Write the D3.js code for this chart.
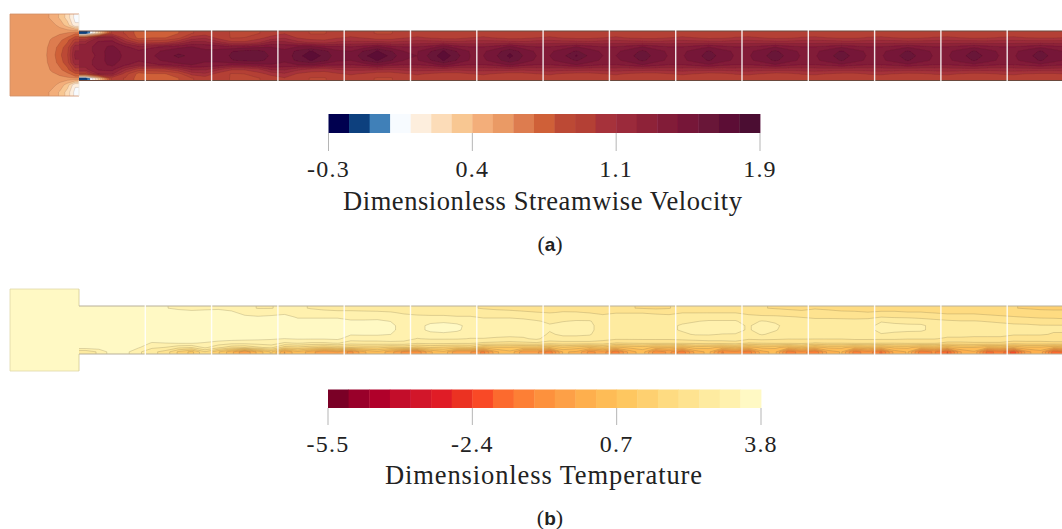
<!DOCTYPE html>
<html><head><meta charset="utf-8">
<script src="https://cdn.jsdelivr.net/npm/d3@7"></script>
<style>html,body{margin:0;padding:0;background:#fff}svg{display:block}text{font-family:"Liberation Serif",serif;fill:#222}</style>
</head><body><svg id="c" width="1062" height="529"></svg>
<script>
const velColors=["#05004f","#0a3f7e","#3f80b8","#f7fbff","#fdeedd","#fcdcb8","#f8c792","#f3ae7a","#ea9a65","#dd7c4f","#cf6139","#bc4a35","#b43f35","#a6333a","#9b2b3a","#8e2239","#821a39","#761637","#691337","#5c1035","#4c0e30"];
const tempColors=["#7a0428","#99052a","#b0062b","#c30c2c","#d2162b","#e01f27","#eb3224","#f94a28","#fc6a2f","#fd7f36","#fd913c","#fda046","#feaf4d","#febc57","#fec761","#fed06f","#fedb81","#fee390","#feeba0","#fff1ae","#fff9c4"];
const velRange=[-0.3,1.9], tempRange=[-5.5,3.8];
const velTicks=["-0.3","0.4","1.1","1.9"], tempTicks=["-5.5","-2.4","0.7","3.8"];
const velTitle="Dimensionless Streamwise Velocity", tempTitle="Dimensionless Temperature";
const modules=15, colsPerModule=5;

// inlet plenum, velocity: upper half, mirrored about the centre row
const velIn0=[.59,.59,.59,.59,.59,.50,.42,.28,.08];
const velIn1=[.59,.59,.59,.59,.59,.58,.50,.38,.14];
const velIn2=[.59,.59,.59,.59,.59,.6,.62,.64,.7];
const velIn3=[.59,.59,.59,.59,.6,.66,.72,.82,1.0];
const velIn4=[.59,.59,.59,.6,.62,.68,.8,.92,1.25];
const velIn5=[.59,.59,.59,.6,.62,.70,.83,.95,1.3];
const tempInlet=3.8;

// channel, velocity: wall (row 0) to centre (row 5); each group is one module
const velR0=[-.15,.35,1.0,.95,.8, .85,.8,.85,.95,1.0, 1.0,.95,.92,.95,1.0, 1.05,1.0,.95,.95,1.0, 1.0,.98,.95,.95,1.0, 1.0,.98,.96,.96,1.0, 1.0,.98,.96,.96,1.0, 1.0,.98,.97,.96,.98, 1.0,.98,.96,.96,.98, 1.0,.98,.97,.97,1.0, 1.0,.98,.96,.97,1.0, 1.0,.98,.97,.97,1.0, 1.0,.99,.97,.98,1.0, 1.0,.99,.98,.98,1.0, 1.0,.99,.98,.98,1.0];
const velR1=[.95,1.3,1.3,1.0,.82, .85,.85,.92,1.1,1.15, 1.02,.95,.96,1.02,1.1, 1.15,1.05,1.0,1.0,1.05, 1.08,1.05,1.0,1.0,1.05, 1.08,1.05,1.02,1.02,1.06, 1.08,1.05,1.02,1.03,1.06, 1.08,1.05,1.03,1.03,1.06, 1.08,1.05,1.03,1.03,1.06, 1.08,1.06,1.03,1.04,1.07, 1.08,1.06,1.03,1.04,1.07, 1.08,1.06,1.04,1.04,1.07, 1.08,1.06,1.04,1.05,1.07, 1.08,1.06,1.04,1.05,1.07, 1.08,1.06,1.05,1.05,1.07];
const velR2=[1.25,1.4,1.42,1.2,1.02, 1.02,1.05,1.15,1.3,1.3, 1.2,1.08,1.08,1.14,1.3, 1.3,1.2,1.15,1.12,1.18, 1.2,1.2,1.2,1.18,1.2, 1.22,1.22,1.22,1.2,1.22, 1.22,1.22,1.22,1.2,1.22, 1.23,1.22,1.22,1.21,1.22, 1.23,1.22,1.22,1.21,1.22, 1.23,1.22,1.22,1.21,1.23, 1.23,1.22,1.22,1.22,1.23, 1.23,1.23,1.22,1.22,1.23, 1.23,1.23,1.22,1.22,1.23, 1.23,1.23,1.23,1.22,1.23, 1.23,1.23,1.23,1.23,1.23];
const velR3=[1.3,1.45,1.5,1.4,1.3, 1.35,1.4,1.45,1.48,1.45, 1.45,1.4,1.42,1.45,1.47, 1.45,1.48,1.5,1.42,1.4, 1.38,1.42,1.5,1.42,1.38, 1.38,1.42,1.52,1.42,1.38, 1.38,1.42,1.5,1.42,1.38, 1.38,1.42,1.48,1.42,1.38, 1.38,1.42,1.48,1.42,1.38, 1.38,1.42,1.47,1.41,1.38, 1.38,1.41,1.47,1.41,1.38, 1.38,1.41,1.46,1.41,1.38, 1.38,1.41,1.46,1.41,1.38, 1.38,1.41,1.45,1.41,1.38, 1.38,1.41,1.45,1.41,1.38];
const velR4=[1.3,1.45,1.52,1.45,1.4, 1.45,1.5,1.54,1.55,1.5, 1.5,1.58,1.62,1.62,1.55, 1.5,1.62,1.7,1.62,1.5, 1.48,1.6,1.7,1.6,1.48, 1.47,1.58,1.7,1.58,1.47, 1.46,1.55,1.66,1.55,1.46, 1.46,1.53,1.6,1.53,1.46, 1.46,1.52,1.61,1.52,1.46, 1.46,1.52,1.6,1.52,1.46, 1.46,1.52,1.61,1.52,1.46, 1.46,1.52,1.6,1.52,1.46, 1.46,1.52,1.6,1.52,1.46, 1.46,1.52,1.6,1.52,1.46, 1.46,1.52,1.6,1.52,1.46];
const velR5=[1.28,1.42,1.55,1.45,1.42, 1.47,1.52,1.62,1.55,1.55, 1.52,1.6,1.64,1.65,1.57, 1.5,1.65,1.76,1.66,1.52, 1.5,1.66,1.78,1.66,1.5, 1.48,1.62,1.76,1.62,1.48, 1.48,1.58,1.72,1.58,1.48, 1.48,1.56,1.7,1.56,1.48, 1.48,1.55,1.66,1.54,1.47, 1.47,1.54,1.64,1.54,1.47, 1.47,1.54,1.67,1.54,1.47, 1.47,1.54,1.66,1.54,1.47, 1.47,1.54,1.66,1.54,1.47, 1.47,1.54,1.66,1.54,1.47, 1.47,1.54,1.65,1.54,1.47];

// channel, temperature: top wall (row 0) to bottom wall (row 10)
const tempR0=[3.6,3.7,3.7,3.7,3.7, 3.6,3.4,3.2,3.1,3.2, 3.3,3.2,3.0,2.9,2.9, 3.0,2.95,2.9,2.85,2.8, 2.8,2.75,2.7,2.7,2.6, 2.6,2.55,2.5,2.5,2.5, 2.45,2.4,2.35,2.3,2.2, 2.3,2.35,2.3,2.3,2.2, 2.1,2.05,2.0,1.95,2.0, 2.25,2.2,2.15,2.15,2.1, 2.1,2.05,2.0,1.95,1.9, 2.0,1.95,1.9,1.85,1.8, 1.85,1.85,1.85,1.85,1.8, 1.75,1.7,1.7,1.65,1.6, 1.6,1.55,1.5,1.5,1.5];
const tempR1=[3.8,3.8,3.8,3.8,3.8, 3.8,3.8,3.7,3.6,3.6, 3.5,3.45,3.2,3.1,3.15, 3.25,3.1,3.0,3.0,3.0, 3.0,3.0,3.0,2.95,2.85, 2.8,2.75,2.75,2.7,2.7, 2.6,2.6,2.6,2.55,2.5, 2.45,2.5,2.5,2.45,2.4, 2.45,2.45,2.45,2.4,2.35, 2.45,2.45,2.45,2.45,2.45, 2.35,2.3,2.25,2.2,2.15, 2.15,2.15,2.1,2.1,2.05, 2.1,2.1,2.05,2.05,2.0, 1.95,1.95,1.95,1.9,1.85, 1.8,1.8,1.75,1.7,1.7];
const tempR2=[3.8,3.8,3.8,3.8,3.8, 3.8,3.8,3.8,3.8,3.8, 3.7,3.7,3.45,3.4,3.45, 3.5,3.3,3.3,3.3,3.3, 3.25,3.25,3.25,3.2,3.05, 3.0,3.0,3.0,2.95,2.95, 2.85,2.85,2.85,2.8,2.75, 2.7,2.75,2.75,2.7,2.55, 2.6,2.6,2.6,2.6,2.6, 2.7,2.7,2.75,2.75,2.75, 2.6,2.55,2.55,2.5,2.45, 2.4,2.4,2.38,2.35,2.35, 2.45,2.4,2.4,2.35,2.3, 2.2,2.2,2.2,2.15,2.1, 2.05,2.0,1.95,1.95,1.9];
const tempR3=[3.8,3.8,3.8,3.8,3.8, 3.8,3.8,3.8,3.8,3.8, 3.8,3.8,3.8,3.8,3.8, 3.65,3.5,3.5,3.5,3.5, 3.4,3.4,3.42,3.35,3.15, 3.1,3.2,3.25,3.15,3.1, 3.1,3.1,3.1,3.05,2.95, 2.85,2.9,2.95,2.95,2.7, 2.8,2.8,2.8,2.8,2.8, 2.85,2.9,2.95,2.95,2.95, 2.75,2.95,2.85,2.7,2.65, 2.6,2.6,2.6,2.6,2.65, 2.9,2.85,2.75,2.7,2.6, 2.55,2.5,2.5,2.45,2.4, 2.35,2.3,2.25,2.2,2.2];
const tempR4=[3.8,3.8,3.8,3.8,3.8, 3.8,3.8,3.8,3.8,3.8, 3.8,3.8,3.8,3.8,3.8, 3.8,3.8,3.8,3.8,3.8, 3.6,3.6,3.6,3.45,3.2, 3.15,3.5,3.6,3.5,3.15, 3.15,3.2,3.2,3.15,3.1, 2.95,3.05,3.05,3.0,2.75, 2.85,2.85,2.85,2.85,2.85, 2.95,3.0,3.0,3.05,3.0, 2.88,3.05,3.0,2.75,2.7, 2.72,2.75,2.78,2.8,2.85, 2.98,2.98,3.0,3.0,2.75, 2.7,2.7,2.7,2.65,2.6, 2.55,2.55,2.5,2.5,2.5];
const tempR5=[3.8,3.8,3.8,3.8,3.8, 3.8,3.8,3.8,3.8,3.8, 3.8,3.8,3.8,3.8,3.8, 3.8,3.8,3.8,3.8,3.8, 3.6,3.6,3.6,3.45,3.2, 3.15,3.5,3.6,3.45,3.15, 3.15,3.2,3.2,3.15,3.15, 2.95,3.05,3.05,3.0,2.75, 2.85,2.85,2.85,2.85,2.85, 2.95,3.0,3.05,3.05,3.0, 2.88,3.05,2.95,2.75,2.7, 2.72,2.75,2.78,2.8,2.85, 2.98,2.98,3.0,3.0,2.75, 2.7,2.7,2.7,2.65,2.6, 2.55,2.55,2.5,2.5,2.5];
const tempR6=[3.8,3.8,3.8,3.8,3.8, 3.8,3.8,3.8,3.8,3.8, 3.8,3.8,3.8,3.8,3.8, 3.7,3.7,3.7,3.7,3.7, 3.4,3.42,3.42,3.36,3.15, 3.05,3.15,3.2,3.15,3.05, 3.05,3.05,3.05,3.05,3.1, 2.85,3.0,3.0,2.95,2.7, 2.75,2.75,2.75,2.75,2.75, 2.85,2.95,2.95,2.9,2.9, 2.75,2.95,2.8,2.7,2.65, 2.65,2.65,2.65,2.7,2.75, 2.9,2.85,2.75,2.7,2.6, 2.6,2.6,2.55,2.55,2.55, 2.5,2.5,2.5,2.45,2.45];
const tempR7=[3.8,3.8,3.8,3.8,3.8, 3.7,3.7,3.7,3.7,3.7, 3.6,3.55,3.5,3.45,3.4, 3.35,3.4,3.4,3.4,3.45, 3.1,3.1,3.1,3.1,3.05, 2.9,2.95,2.95,2.95,2.9, 2.9,2.85,2.8,2.85,3.0, 2.7,2.75,2.75,2.75,2.6, 2.55,2.55,2.55,2.55,2.55, 2.6,2.65,2.7,2.7,2.75, 2.55,2.6,2.55,2.5,2.5, 2.5,2.5,2.5,2.55,2.55, 2.55,2.55,2.5,2.5,2.5, 2.4,2.4,2.4,2.4,2.4, 2.3,2.3,2.3,2.3,2.3];
const tempR8=[3.8,3.8,3.8,3.8,3.7, 3.3,3.35,3.4,3.4,3.3, 3.15,3.05,3.05,3.1,3.15, 2.85,2.95,2.85,2.85,2.95, 2.7,2.75,2.75,2.8,2.8, 2.55,2.6,2.6,2.55,2.55, 2.4,2.35,2.3,2.35,2.4, 2.25,2.3,2.3,2.3,2.3, 2.0,2.05,2.1,2.1,2.1, 2.1,2.15,2.2,2.2,2.25, 2.0,2.05,2.1,2.1,2.15, 2.0,2.05,2.05,2.1,2.1, 2.05,2.05,2.1,2.1,2.1, 1.9,1.9,1.95,1.95,1.95, 1.8,1.85,1.85,1.9,1.9];
const tempR9=[3.6,3.6,3.8,3.7,3.4, 3.0,2.9,2.6,2.5,3.0, 2.6,2.2,2.1,2.4,2.6, 1.8,1.9,1.7,1.5,1.7, 1.6,1.7,1.7,1.5,1.6, 1.4,1.6,1.5,1.4,1.5, .9,1.1,1.1,1.0,1.0, .7,1.1,.9,.7,1.0, .6,.8,.9,.6,.7, .5,.9,.8,.6,.8, .5,.8,.8,.5,.8, .5,.8,.8,.5,.7, .5,.8,.8,.5,.6, .4,.7,.7,.4,.5, .3,.6,.6,.3,.5];
const tempR10=[2.6,3.0,3.6,3.5,3.0, 2.6,2.3,1.5,1.0,2.0, 1.2,.4,-.6,.4,1.2, -.2,.6,0,-.6,-.2, -.8,.2,.6,0,-.8, -1.0,.2,.6,-.6,-.6, -1.2,.2,.6,-.5,-.5, -1.4,.3,.2,-.8,-.4, -1.4,0,.5,-1.0,-.5, -1.4,0,.4,-1.1,-.8, -1.4,.1,.4,-1.4,-.8, -1.5,0,.3,-1.3,-.8, -1.6,0,.3,-1.4,-1.0, -2.0,-.2,.2,-1.7,-1.3, -2.2,-.3,.1,-1.8,-1.4];

const velInletRows=[velIn0,velIn1,velIn2,velIn3,velIn4,velIn5,velIn4,velIn3,velIn2,velIn1,velIn0];
const velRows=[velR0,velR1,velR2,velR3,velR4,velR5,velR4,velR3,velR2,velR1,velR0];
const tempRows=[tempR0,tempR1,tempR2,tempR3,tempR4,tempR5,tempR6,tempR7,tempR8,tempR9,tempR10];

const svg=d3.select("#c");
const defs=svg.append("defs");
defs.append("filter").attr("id","soft").attr("x","-5%").attr("y","-20%").attr("width","110%").attr("height","140%")
  .append("feGaussianBlur").attr("stdDeviation",0.55);

function thresholdsOf(range,colors){
  const band=d3.scaleLinear().domain([0,colors.length]).range(range);
  return colors.map((c,i)=>band(i));
}
function field(parent,rows,colors,range,x0,x1,y0,y1,lineColor,clipId){
  // the measured rows are held at their edge values one cell beyond the domain,
  // so that the outline of the contour polygons falls outside the clip
  const edged=rows.map(r=>[r[0],...r,r[r.length-1]]);
  const grid=[edged[0],...edged,edged[edged.length-1]];
  const n=rows[0].length,m=rows.length;
  const sx=d3.scaleLinear().domain([1,n+1]).range([x0,x1]);
  const sy=d3.scaleLinear().domain([1,m+1]).range([y0,y1]);
  const path=d3.geoPath(d3.geoTransform({point(x,y){this.stream.point(sx(x),sy(y));}}));
  const th=thresholdsOf(range,colors);
  const polys=d3.contours().size([n+2,m+2]).thresholds(th)(grid.flat());
  defs.append("clipPath").attr("id",clipId).append("rect")
    .attr("x",x0).attr("y",y0).attr("width",Math.min(x1,1062)-x0).attr("height",y1-y0);
  const g=parent.append("g").attr("clip-path",`url(#${clipId})`);
  g.selectAll("path.f").data(polys).join("path").attr("class","f").attr("d",path).attr("fill",(d,i)=>colors[i]);
  g.selectAll("path.l").data(polys.slice(1)).join("path").attr("class","l")
    .attr("d",path).attr("fill","none").attr("stroke",lineColor).attr("stroke-width",0.55);
}
function panel(o){
  const soft=svg.append("g").attr("filter","url(#soft)");
  const inX=o.inX, chY=o.chY, inY=o.inY;
  if(o.inletRows){
    field(soft,o.inletRows,o.colors,o.range,inX[0],inX[1],inY[0],inY[1],o.line,o.id+"i");
  }else{
    const bandOf=d3.scaleQuantize().domain(o.range).range(o.colors);
    soft.append("rect").attr("x",inX[0]).attr("y",inY[0]).attr("width",inX[1]-inX[0]).attr("height",inY[1]-inY[0])
      .attr("fill",bandOf(o.inletValue-0.01));
  }
  const moduleX=d3.scaleLinear().domain([0,modules]).range([inX[1],inX[1]+66.3*modules]);
  field(soft,o.rows,o.colors,o.range,moduleX(0),moduleX(modules),chY[0],chY[1],o.line,o.id+"c");
  // walls
  soft.append("path").attr("fill","none").attr("stroke",o.inletWall).attr("stroke-width",0.8)
    .attr("d",`M${inX[1]},${inY[0]}H${inX[0]}V${inY[1]}H${inX[1]}`);
  soft.append("path").attr("fill","none").attr("stroke",o.stepWall).attr("stroke-width",0.9)
    .attr("d",`M${inX[1]},${inY[0]}V${chY[0]}M${inX[1]},${chY[1]}V${inY[1]}`);
  soft.selectAll("line.w").data(chY).join("line").attr("class","w")
    .attr("x1",moduleX(0)).attr("x2",1062).attr("y1",d=>d).attr("y2",d=>d)
    .attr("stroke",o.wall).attr("stroke-width",1);
  // module joints
  svg.selectAll("line.j"+o.id).data(d3.range(1,modules)).join("line").attr("class","j"+o.id)
    .attr("x1",d=>moduleX(d)).attr("x2",d=>moduleX(d)).attr("y1",chY[0]-1).attr("y2",chY[1]+1)
    .attr("stroke","#fff").attr("stroke-opacity",0.88).attr("stroke-width",1.4);
  // colour bar
  const bar=d3.scaleLinear().domain(o.range).range(o.barX);
  const th=thresholdsOf(o.range,o.colors);
  const step=(o.range[1]-o.range[0])/o.colors.length;
  const gb=svg.append("g").attr("filter","url(#soft)");
  gb.selectAll("rect").data(o.colors).join("rect")
    .attr("x",(d,i)=>bar(th[i])).attr("width",(d,i)=>bar(th[i]+step)-bar(th[i])+0.4)
    .attr("y",o.barY[0]).attr("height",o.barY[1]-o.barY[0]).attr("fill",d=>d);
  const tickPos=d3.scaleLinear().domain([0,o.ticks.length-1]).range(o.barX);
  svg.selectAll("line.t"+o.id).data(o.ticks).join("line").attr("class","t"+o.id)
    .attr("x1",(d,i)=>tickPos(i)).attr("x2",(d,i)=>tickPos(i))
    .attr("y1",o.barY[1]).attr("y2",o.tickEnd).attr("stroke","#b5b5b5").attr("stroke-width",1);
  svg.selectAll("text.t"+o.id).data(o.ticks).join("text").attr("class","t"+o.id)
    .attr("x",(d,i)=>tickPos(i)).attr("y",o.tickBase).attr("text-anchor","middle")
    .attr("font-size",24).style("letter-spacing","1.2px").text(d=>d);
  svg.append("text").attr("x",o.titleX[0]).attr("y",o.titleBase).attr("font-size",26.5)
    .attr("textLength",o.titleX[1]-o.titleX[0]).attr("lengthAdjust","spacing").text(o.title);
  const lab=svg.append("text").attr("x",o.labelX).attr("y",o.labelBase).attr("text-anchor","middle").attr("font-size",22);
  lab.append("tspan").text("(");
  lab.append("tspan").attr("font-weight","bold").attr("font-family","'Liberation Sans',sans-serif").attr("font-size",19).text(o.label);
  lab.append("tspan").text(")");
}
panel({id:"a",rows:velRows,inletRows:velInletRows,colors:velColors,range:velRange,line:"rgba(50,15,25,.22)",
  inX:[10,79],inY:[14,96],chY:[31,80.5],inletWall:"#d09068",stepWall:"#ece8e0",wall:"#6a4a3c",
  barX:[328.5,760],barY:[114,133],tickEnd:151,tickBase:177,ticks:velTicks,title:velTitle,
  titleX:[343,742],titleBase:210,label:"a",labelX:550,labelBase:251});
panel({id:"b",rows:tempRows,inletValue:tempInlet,colors:tempColors,range:tempRange,line:"rgba(110,95,60,.42)",
  inX:[10,79],inY:[289,371],chY:[306,354],inletWall:"#e0d8a8",stepWall:"#d8cf9c",wall:"#b8b09a",
  barX:[328,761],barY:[389.5,408],tickEnd:425,tickBase:452,ticks:tempTicks,title:tempTitle,
  titleX:[385,702],titleBase:484,label:"b",labelX:550,labelBase:525});
</script></body></html>
